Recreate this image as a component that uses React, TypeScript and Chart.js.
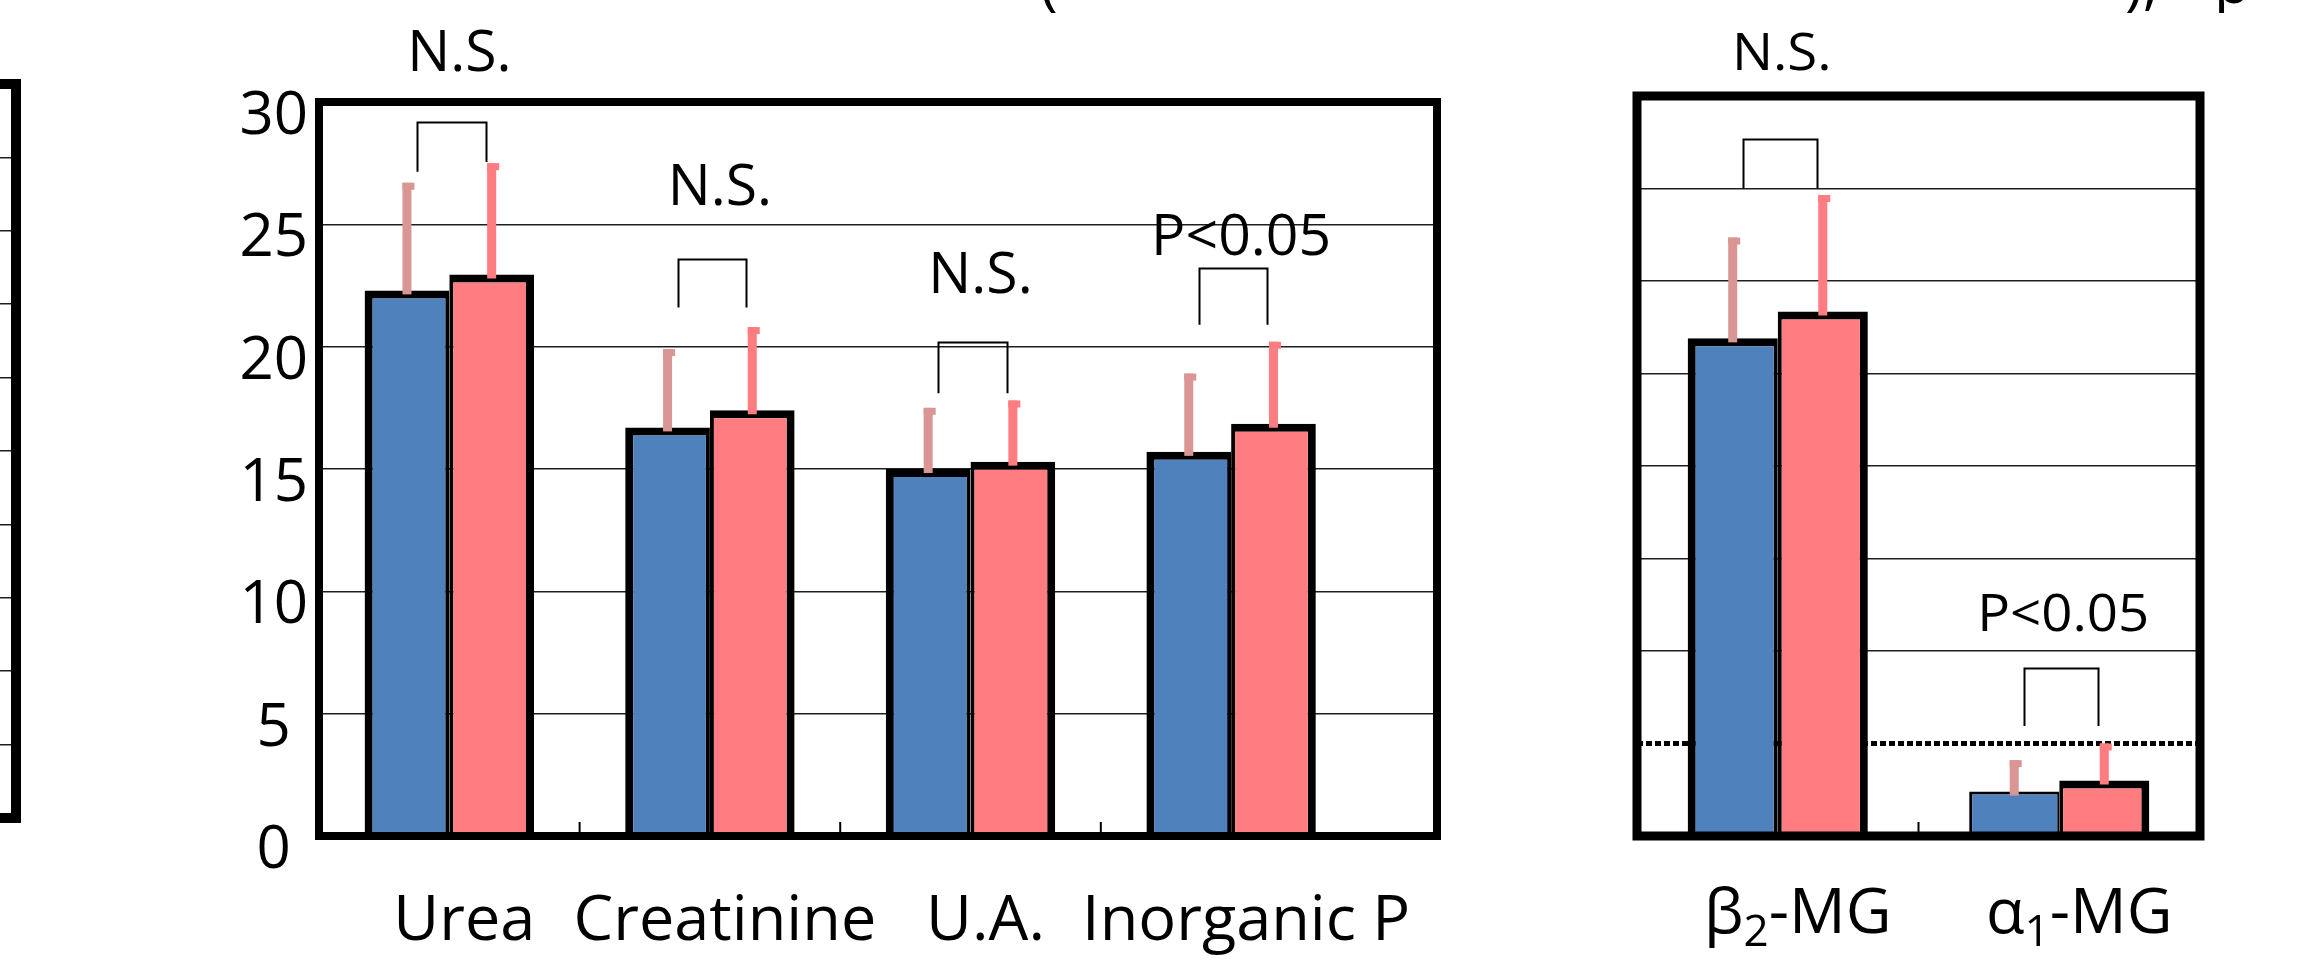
import React, { useEffect, useRef } from 'react';
import { Chart, registerables } from 'chart.js';
Chart.register(...registerables);

// ---------------- data ----------------
const mainCategories = ['Urea', 'Creatinine', 'U.A.', 'Inorganic P'];
const mainGroupA = [22.3, 16.7, 15.0, 15.7];
const mainGroupB = [22.95, 17.4, 15.3, 16.85];
const mainErrA = [4.4, 3.2, 2.5, 3.2];
const mainErrB = [4.55, 3.4, 2.5, 3.35];
const mainBracketTop = [29.2, 23.6, 20.2, 23.2];
const mainBracketLeftEnd = [27.15, 21.6, 18.1, 20.9];
const mainBracketRightEnd = [27.55, 21.6, 18.1, 20.9];
const mainSigText = ['N.S.', 'N.S.', 'N.S.', 'P<0.05'];
const mainSigY = [31.9, 26.45, 22.85, 24.4];
const mainYMin = 0;
const mainYMax = 30;
const mainYStep = 5;

const rightCategories = ['β₂-MG', 'α₁-MG'];
const rightLabelBase = ['β', 'α'];
const rightLabelSub = ['2', '1'];
const rightLabelTail = ['-MG', '-MG'];
const rightGroupA = [5.38, 0.48];
const rightGroupB = [5.67, 0.6];
const rightErrA = [1.09, 0.34];
const rightErrB = [1.26, 0.4];
const rightBracketTop = [7.54, 1.82];
const rightBracketLeftEnd = [7.0, 1.19];
const rightBracketRightEnd = [7.0, 1.19];
const rightSigText = ['N.S.', 'P<0.05'];
const rightSigY = [8.44, 2.38];
const rightRefLine = 1;
const rightYMax = 8;

const leftPartialYMax = 10;
const titleFragments = ['(', '),', 'p'];

// ---------------- styles ----------------
const BLUE = '#4F81BD';
const PINK = '#FF7C80';
const ERR_A = '#D99694';
const ERR_B = '#FF7C80';
const GRID = '#1e1e1e';
const FONT = 'Open Sans';
const titleFragmentLeft = [1040, 2125, 2214];

type Overlay = {
  errs: number[][];
  errColors: string[];
  brTop: number[];
  brL: number[];
  brR: number[];
  sigText: string[];
  sigY: number[];
  sigFont: string;
  sigDx: number;
  sigStretch: number;
  boundaries: number[];
  frameWidth: number;
  refLine?: number;
  labels?: {
    base: string[];
    sub: string[];
    tail: string[];
    size: number;
    baselineOffset: number;
    dx: number;
    stretch: number;
  };
};

function makeOverlay(o: Overlay) {
  return {
    id: 'overlay',
    beforeDatasetsDraw(chart: any) {
      if (o.refLine === undefined) return;
      const { ctx, chartArea: a } = chart;
      const y = chart.scales.y;
      const py = y.getPixelForValue(o.refLine);
      ctx.save();
      ctx.strokeStyle = '#000';
      ctx.lineWidth = 5;
      ctx.setLineDash([6, 3]);
      ctx.beginPath();
      ctx.moveTo(a.left, py);
      ctx.lineTo(a.right, py);
      ctx.stroke();
      ctx.restore();
    },
    afterDatasetsDraw(chart: any) {
      const { ctx, chartArea: a } = chart;
      const x = chart.scales.x;
      const y = chart.scales.y;
      ctx.save();
      // error bars
      chart.data.datasets.forEach((ds: any, di: number) => {
        const meta = chart.getDatasetMeta(di);
        meta.data.forEach((bar: any, i: number) => {
          const raw: any = ds.data[i];
          const v = typeof raw === 'number' ? raw : raw.y;
          const top = y.getPixelForValue(v + o.errs[di][i]);
          ctx.fillStyle = o.errColors[di];
          ctx.fillRect(bar.x - 4.5, top, 9, bar.y - top + 4);
          ctx.fillRect(bar.x - 4.5, top, 12, 7);
        });
      });
      // category boundary ticks
      ctx.fillStyle = '#000';
      o.boundaries.forEach((b) => {
        const px = x.getPixelForValue(b);
        ctx.fillRect(px - 1, a.bottom - 14, 2, 14);
      });
      // frame
      ctx.strokeStyle = '#000';
      ctx.lineWidth = o.frameWidth;
      ctx.strokeRect(a.left, a.top, a.right - a.left, a.bottom - a.top);
      // brackets
      const mA = chart.getDatasetMeta(0);
      const mB = chart.getDatasetMeta(1);
      ctx.lineWidth = 2;
      o.brTop.forEach((t, i) => {
        const xl = Math.round(mA.data[i].x + 10) + 0.5;
        const xr = Math.round(mB.data[i].x - 6) + 0.5;
        const yt = Math.round(y.getPixelForValue(t)) + 0.5;
        ctx.beginPath();
        ctx.moveTo(xl, y.getPixelForValue(o.brL[i]));
        ctx.lineTo(xl, yt);
        ctx.lineTo(xr, yt);
        ctx.lineTo(xr, y.getPixelForValue(o.brR[i]));
        ctx.stroke();
      });
      // significance text
      ctx.font = o.sigFont;
      ctx.textAlign = 'center';
      ctx.textBaseline = 'middle';
      ctx.fillStyle = '#000';
      o.sigText.forEach((s, i) => {
        const cx = (mA.data[i].x + mB.data[i].x) / 2 + o.sigDx;
        ctx.save();
        ctx.translate(cx, y.getPixelForValue(o.sigY[i]));
        ctx.scale(o.sigStretch, 1);
        ctx.fillText(s, 0, 0);
        ctx.restore();
      });
      // category labels with subscripts
      if (o.labels) {
        const L = o.labels;
        const subSize = Math.round(L.size * 0.7);
        ctx.textAlign = 'left';
        ctx.textBaseline = 'alphabetic';
        L.base.forEach((b, i) => {
          const big = `${L.size}px "${FONT}"`;
          const small = `${subSize}px "${FONT}"`;
          ctx.font = big;
          const wb = ctx.measureText(b).width;
          const wt = ctx.measureText(L.tail[i]).width;
          ctx.font = small;
          const ws = ctx.measureText(L.sub[i]).width;
          const total = wb + ws + wt;
          const cx = x.getPixelForValue(i) + L.dx;
          ctx.save();
          ctx.translate(cx, a.bottom + L.baselineOffset);
          ctx.scale(L.stretch, 1);
          let sx = -total / 2;
          ctx.font = big;
          ctx.fillText(b, sx, 0);
          sx += wb;
          ctx.font = small;
          ctx.fillText(L.sub[i], sx, Math.round(L.size * 0.2));
          sx += ws;
          ctx.font = big;
          ctx.fillText(L.tail[i], sx, 0);
          ctx.restore();
        });
      }
      ctx.restore();
    },
  };
}

function framePlugin(width: number) {
  return {
    id: 'frame',
    afterDatasetsDraw(chart: any) {
      const { ctx, chartArea: a } = chart;
      ctx.save();
      ctx.strokeStyle = '#000';
      ctx.lineWidth = width;
      ctx.strokeRect(a.left, a.top, a.right - a.left, a.bottom - a.top);
      ctx.restore();
    },
  };
}

const borderA = { top: 8, left: 8, right: 4, bottom: 0 };
const borderB = { top: 8, left: 4, right: 8, bottom: 0 };

function buildMain() {
  const n = mainCategories.length;
  return {
    type: 'bar',
    data: {
      datasets: [
        {
          data: mainGroupA.map((v, i) => ({ x: i, y: v })),
          backgroundColor: BLUE,
          borderColor: '#000',
          borderWidth: borderA,
          categoryPercentage: 0.65,
          barPercentage: 1,
        },
        {
          data: mainGroupB.map((v, i) => ({ x: i, y: v })),
          backgroundColor: PINK,
          borderColor: '#000',
          borderWidth: borderB,
          categoryPercentage: 0.65,
          barPercentage: 1,
        },
      ],
    },
    options: {
      responsive: false,
      animation: false,
      devicePixelRatio: 1,
      layout: { padding: { top: 102, right: 63, left: 0, bottom: 0 } },
      plugins: { legend: { display: false }, tooltip: { enabled: false }, title: { display: false } },
      scales: {
        x: {
          type: 'linear',
          offset: false,
          min: -0.5,
          max: n - 0.5 + 0.29,
          grid: { display: false, drawTicks: false },
          border: { display: false },
          ticks: {
            stepSize: 1,
            includeBounds: false,
            autoSkip: false,
            maxRotation: 0,
            padding: 48,
            labelOffset: 15,
            color: '#000',
            font: { family: FONT, size: 63 },
            callback: (v: number) => (Number.isInteger(v) && mainCategories[v] !== undefined ? mainCategories[v] : ''),
          },
          afterFit: (s: any) => {
            s.height = 125;
          },
        },
        y: {
          min: mainYMin,
          max: mainYMax,
          grid: { color: GRID, lineWidth: 1.5, drawTicks: false },
          border: { display: false },
          ticks: {
            stepSize: mainYStep,
            padding: 11,
            crossAlign: 'center',
            labelOffset: 15,
            color: '#000',
            font: { family: FONT, size: 60 },
          },
          afterFit: (s: any) => {
            s.width = 109;
          },
        },
      },
    },
    plugins: [
      makeOverlay({
        errs: [mainErrA, mainErrB],
        errColors: [ERR_A, ERR_B],
        brTop: mainBracketTop,
        brL: mainBracketLeftEnd,
        brR: mainBracketRightEnd,
        sigText: mainSigText,
        sigY: mainSigY,
        sigFont: `56px "${FONT}"`,
        sigDx: 10,
        sigStretch: 1.02,
        boundaries: mainCategories.slice(1).map((_, i) => i + 0.5),
        frameWidth: 8,
      }),
    ],
  };
}

function buildRight() {
  return {
    type: 'bar',
    data: {
      labels: rightCategories,
      datasets: [
        {
          data: rightGroupA,
          backgroundColor: BLUE,
          borderColor: '#000',
          borderWidth: (c: any) => (c.dataIndex === 1 ? { top: 3, left: 3, right: 2, bottom: 0 } : borderA),
          categoryPercentage: 0.64,
          barPercentage: 1,
        },
        {
          data: rightGroupB,
          backgroundColor: PINK,
          borderColor: '#000',
          borderWidth: borderB,
          categoryPercentage: 0.64,
          barPercentage: 1,
        },
      ],
    },
    options: {
      responsive: false,
      animation: false,
      devicePixelRatio: 1,
      layout: { padding: { top: 96, right: 112, left: 0, bottom: 0 } },
      plugins: { legend: { display: false }, tooltip: { enabled: false } },
      scales: {
        x: {
          grid: { display: false, drawTicks: false },
          border: { display: false },
          ticks: { display: false },
          afterFit: (s: any) => {
            s.height = 125;
          },
        },
        y: {
          min: 0,
          max: rightYMax,
          grid: {
            color: (c: any) => (c.tick && c.tick.value === rightRefLine ? 'rgba(0,0,0,0)' : GRID),
            lineWidth: 1.5,
            drawTicks: false,
          },
          border: { display: false },
          ticks: { display: false, stepSize: 1 },
          afterFit: (s: any) => {
            s.width = 117;
          },
        },
      },
    },
    plugins: [
      makeOverlay({
        errs: [rightErrA, rightErrB],
        errColors: [ERR_A, ERR_B],
        brTop: rightBracketTop,
        brL: rightBracketLeftEnd,
        brR: rightBracketRightEnd,
        sigText: rightSigText,
        sigY: rightSigY,
        sigFont: `52px "${FONT}"`,
        sigDx: 4,
        sigStretch: 1.05,
        boundaries: [0.5],
        frameWidth: 9,
        refLine: rightRefLine,
        labels: {
          base: rightLabelBase,
          sub: rightLabelSub,
          tail: rightLabelTail,
          size: 63,
          baselineOffset: 97,
          dx: 20,
          stretch: 1.0,
        },
      }),
    ],
  };
}

function buildLeft() {
  return {
    type: 'bar',
    data: { labels: [''], datasets: [{ data: [] as number[] }] },
    options: {
      responsive: false,
      animation: false,
      devicePixelRatio: 1,
      layout: { padding: { top: 84, right: 14, left: 0, bottom: 143 } },
      plugins: { legend: { display: false }, tooltip: { enabled: false } },
      scales: {
        x: { display: false },
        y: {
          min: 0,
          max: leftPartialYMax,
          grid: { color: GRID, lineWidth: 1.5, drawTicks: false },
          border: { display: false },
          ticks: { display: false, stepSize: 1 },
          afterFit: (s: any) => {
            s.width = 0;
          },
        },
      },
    },
    plugins: [framePlugin(10)],
  };
}

function ChartCanvas({ build, left, width }: { build: () => any; left: number; width: number }) {
  const ref = useRef<HTMLCanvasElement>(null);
  useEffect(() => {
    const chart = new Chart(ref.current as HTMLCanvasElement, build());
    return () => chart.destroy();
  }, []);
  return (
    <canvas
      ref={ref}
      width={width}
      height={961}
      style={{ position: 'absolute', left, top: 0, width, height: 961, display: 'block' }}
    />
  );
}

export default function App() {
  return (
    <div
      style={{
        position: 'absolute',
        left: 0,
        top: 0,
        width: 2312,
        height: 961,
        overflow: 'hidden',
        background: '#fff',
      }}
    >
      <ChartCanvas build={buildLeft} left={-300} width={330} />
      <ChartCanvas build={buildMain} left={210} width={1290} />
      <ChartCanvas build={buildRight} left={1520} width={792} />
      <div style={{ position: 'absolute', left: 0, top: 0, width: 2312, height: 13, overflow: 'hidden' }}>
        {titleFragments.map((t, i) => (
          <span
            key={i}
            style={{
              position: 'absolute',
              left: titleFragmentLeft[i],
              top: -50,
              fontFamily: FONT,
              fontSize: 60,
              lineHeight: '60px',
              whiteSpace: 'pre',
            }}
          >
            {t}
          </span>
        ))}
      </div>
    </div>
  );
}
